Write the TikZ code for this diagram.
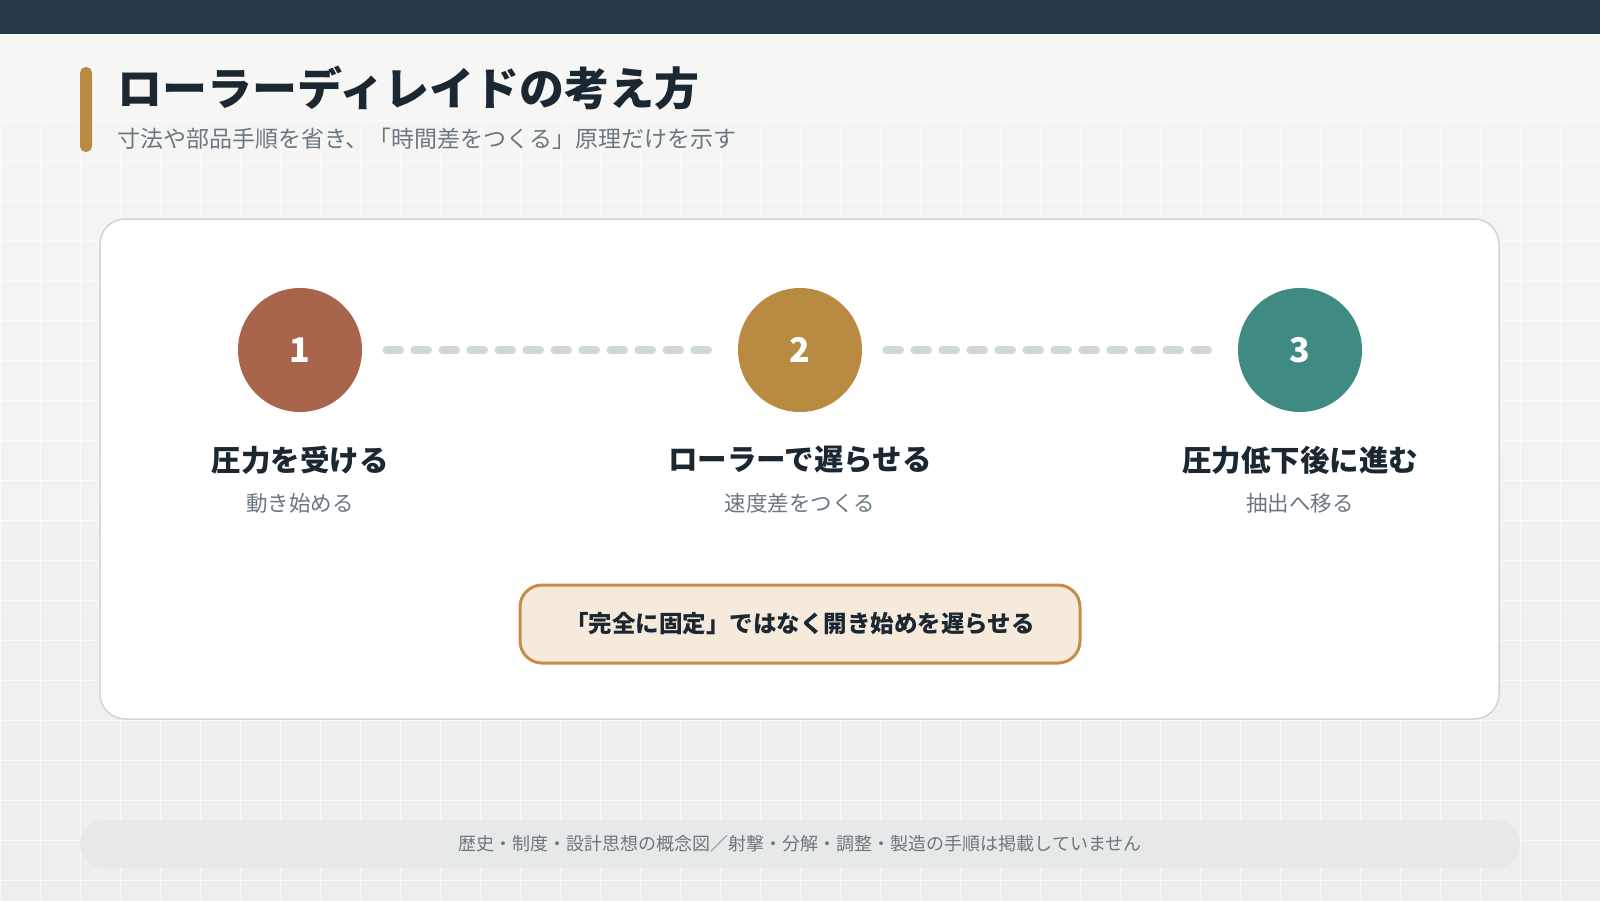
\documentclass[tikz,border=0pt]{standalone}
\usepackage{fontspec}
\setmainfont{Noto Sans CJK JP}[BoldFont={Noto Sans CJK JP Black}]
\usetikzlibrary{positioning}

\definecolor{navy}{HTML}{243A4A}
\definecolor{gold}{HTML}{B98A42}
\definecolor{rust}{HTML}{A9654C}
\definecolor{teal}{HTML}{3F8A82}
\definecolor{ink}{HTML}{1B2731}
\definecolor{greytext}{HTML}{6B7780}
\definecolor{cardline}{HTML}{CFD6D4}
\definecolor{dashgrey}{HTML}{CFD8D5}
\definecolor{notefill}{HTML}{F5EADB}
\definecolor{noteline}{HTML}{C0904A}
\definecolor{footfill}{HTML}{E6E9E8}
\definecolor{bgtop}{HTML}{F7F7F5}
\definecolor{bgbot}{HTML}{ECEFEE}

\tikzset{
    stepdot/.style={circle,minimum size=62pt,inner sep=0pt,text=white,
        font=\fontsize{17}{20}\selectfont\bfseries},
    steptitle/.style={inner sep=0pt,text=ink,font=\fontsize{14.75}{17}\selectfont\bfseries},
    stepnote/.style={inner sep=0pt,text=greytext,font=\fontsize{10.75}{13}\selectfont},
    dashline/.style={line width=4pt,dashgrey,line cap=round,
        dash pattern=on 6.75pt off 7.25pt,shorten <=12pt,shorten >=12pt}
}

\begin{document}
\begin{tikzpicture}[x=0.5pt,y=-0.5pt]
            % page
            \useasboundingbox (0,0) rectangle (1600,900);
            \shade[top color=bgtop,bottom color=bgbot] (0,0) rectangle (1600,900);
            \draw[black!2,line width=0.4pt,step=20pt] (0,0) grid (1600,900);
            \fill[navy] (0,0) rectangle (1600,34);

            % heading
            \fill[gold,rounded corners=2.8pt] (80,67) rectangle (92,152);
            \node[anchor=west,inner sep=0pt,text=ink,font=\fontsize{22.5}{26}\selectfont\bfseries]
                (title) at (117,88) {ローラーディレイドの考え方};
            \node[anchor=west,inner sep=0pt,text=greytext,font=\fontsize{11.5}{14}\selectfont]
                (subtitle) at (117,139) {寸法や部品手順を省き、「時間差をつくる」原理だけを示す};

            % card
            \draw[cardline,fill=white,line width=0.75pt,rounded corners=12.5pt]
                (100,219) rectangle (1499,719);

            \node[stepdot,fill=rust] (c1) at (300,350) {1};
            \node[stepdot,fill=gold] (c2) at (800,350) {2};
            \node[stepdot,fill=teal] (c3) at (1300,350) {3};
            \draw[dashline] (c1) -- (c2);
            \draw[dashline] (c2) -- (c3);

            \node[steptitle] (t1) at (300,460) {圧力を受ける};
            \node[steptitle] (t2) at (800,460) {ローラーで遅らせる};
            \node[steptitle] (t3) at (1300,460) {圧力低下後に進む};
            \node[stepnote] (n1) at (300,503) {動き始める};
            \node[stepnote] (n2) at (800,503) {速度差をつくる};
            \node[stepnote] (n3) at (1300,503) {抽出へ移る};

            \node[draw=noteline,fill=notefill,line width=1.5pt,rounded corners=11pt,
                minimum width=280pt,minimum height=39pt,text=ink,
                font=\fontsize{11.75}{14}\selectfont\bfseries]
                (key) at (800,624) {\raisebox{-1pt}{「完全に固定」ではなく開き始めを遅らせる}};

            % footer
            \node[fill=footfill,rounded corners=12pt,minimum width=720pt,minimum height=24pt,
                text=greytext,font=\fontsize{9}{11}\selectfont]
                (foot) at (800,844) {\raisebox{-1pt}{歴史・制度・設計思想の概念図／射撃・分解・調整・製造の手順は掲載していません}};
\end{tikzpicture}
\end{document}
